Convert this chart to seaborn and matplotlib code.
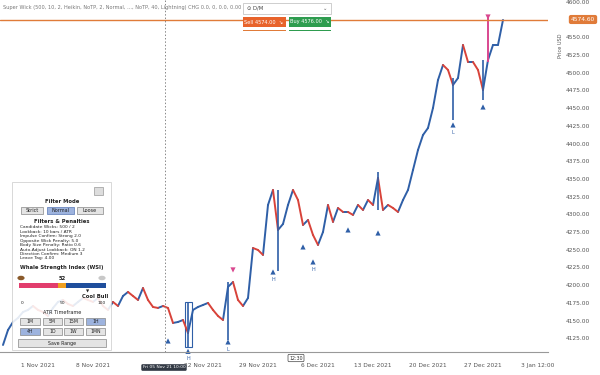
import numpy as np
import pandas as pd
import matplotlib.pyplot as plt
import seaborn as sns
from matplotlib.patches import Rectangle, Circle

# closing prices, one per bar
closes = [4115.5, 4136.7, 4148.0, 4153.7, 4162.1, 4165.0, 4170.6, 4165.0, 4162.1, 4156.5,
          4167.8, 4176.3, 4179.1, 4173.4, 4170.6, 4176.3, 4181.9, 4179.1, 4176.3, 4181.9,
          4170.6, 4165.0, 4176.3, 4170.6, 4184.7, 4190.4, 4184.7, 4179.1, 4196.0, 4179.1,
          4169.2, 4167.8, 4170.6, 4167.8, 4146.6, 4148.0, 4150.8, 4132.5, 4165.0, 4169.2,
          4172.0, 4174.9, 4165.0, 4156.5, 4150.8, 4197.5, 4204.5, 4179.1, 4170.6, 4181.9,
          4252.5, 4249.7, 4242.7, 4313.3, 4334.5, 4278.0, 4286.4, 4313.3, 4334.5, 4320.3,
          4285.0, 4292.1, 4270.9, 4256.8, 4275.1, 4313.3, 4289.3, 4309.0, 4303.4, 4303.4,
          4299.2, 4313.3, 4306.2, 4320.3, 4313.3, 4351.4, 4306.2, 4313.3, 4309.0, 4303.4,
          4320.3, 4334.5, 4362.7, 4391.0, 4412.1, 4422.0, 4450.3, 4489.8, 4511.0, 4504.0,
          4482.8, 4492.6, 4539.3, 4515.2, 4515.2, 4504.0, 4475.7, 4518.1, 4539.3, 4539.3,
          4574.6]

# long wicks
wick_bars = [37, 45, 55, 75, 90, 96]
wick_lows = [4112.7, 4122.0, 4220.0, 4306.0, 4433.3, 4461.6]
wick_highs = [4176.3, 4204.5, 4334.5, 4360.0, 4492.6, 4518.1]

# signal markers
buy_bars = [33, 37, 45, 54, 60, 62, 69, 75, 90, 96]
buy_prices = [4121.2, 4106.5, 4119.8, 4218.6, 4254.0, 4232.8, 4278.0, 4273.7, 4426.3, 4451.7]
buy_tags = ["", "H", "L", "H", "", "H", "", "", "L", ""]
sell_bars = [46, 97]
sell_prices = [4221.5, 4578.8]

last_price = 4574.60
y_ticks = [4125, 4150, 4175, 4200, 4225, 4250, 4275, 4300, 4325, 4350, 4375, 4400,
           4425, 4450, 4475, 4500, 4525, 4550, 4600]
tick_bars = [7, 18, 40, 51, 63, 74, 85, 96, 107]
tick_dates = ["1 Nov 2021", "8 Nov 2021", "22 Nov 2021", "29 Nov 2021",
              "6 Dec 2021", "13 Dec 2021", "20 Dec 2021", "27 Dec 2021", "3 Jan 12:00"]

BLUE = "#2f5fa7"
RED = "#d8433a"
PINK = "#d9478f"
ORANGE = "#e07b39"
GREEN = "#2e9c4f"

sns.set_style("white")
plt.rcParams['font.family'] = ['DejaVu Sans']

W, H = 600, 375
fig = plt.figure(figsize=(6, 3.75), dpi=100)
fx = lambda px: px / W
fy = lambda py: 1 - py / H

ax = fig.add_axes([0, fy(352), fx(548), 352 / H])

# price line: one segment per bar, coloured by direction
rows = []
for i in range(1, len(closes)):
    d = "up" if closes[i] >= closes[i - 1] else "down"
    rows.append({"seg": i, "bar": i - 1, "price": closes[i - 1], "dir": d})
    rows.append({"seg": i, "bar": i, "price": closes[i], "dir": d})
seg = pd.DataFrame(rows)
sns.lineplot(data=seg, x="bar", y="price", hue="dir", units="seg", estimator=None,
             palette={"up": BLUE, "down": RED}, lw=1.4, legend=False, sort=False, ax=ax)

ax.vlines(wick_bars, wick_lows, wick_highs, color=BLUE, lw=1.2)
ax.vlines([97], [4515.2], [4578.8], color=PINK, lw=1.4)

ax.add_patch(Rectangle((36.4, 4112.7), 1.3, 63.6, fill=False, ec=BLUE, lw=0.8))

sns.scatterplot(x=buy_bars, y=buy_prices, marker="^", s=14, color=BLUE,
                edgecolor="none", ax=ax, clip_on=False)
for b, p, t in zip(buy_bars, buy_prices, buy_tags):
    ax.text(b, p - 7, t, ha="center", va="top", fontsize=3.5, color=BLUE, clip_on=False)
sns.scatterplot(x=sell_bars, y=sell_prices, marker="v", s=14, color=PINK,
                edgecolor="none", ax=ax)

ax.axhline(last_price, color=ORANGE, lw=1.0)
ax.axvline(32.4, color="#888888", lw=0.7, ls=(0, (1.5, 2)))

ax.set_xlim(-0.6, 109)
ax.set_ylim(4105.6, 4602.8)
ax.set_xlabel("")
ax.set_ylabel("")
ax.yaxis.tick_right()
ax.set_yticks(y_ticks)
ax.set_yticklabels([f"{v:.2f}" for v in y_ticks])
ax.tick_params(axis="y", length=0, pad=13, labelsize=4.2, labelcolor="#555555")
ax.set_xticks(tick_bars)
ax.set_xticklabels(tick_dates)
ax.tick_params(axis="x", length=2, width=0.5, color="#777777", pad=6,
               labelsize=4.2, labelcolor="#555555")
for s in ["top", "right", "left"]:
    ax.spines[s].set_visible(False)
ax.spines["bottom"].set_color("#999999")
ax.spines["bottom"].set_linewidth(0.8)
ax.patch.set_alpha(0)

# price tag and axis title
fig.text(fx(583), fy(19.5), f"{last_price:.2f}", ha="center", va="center", fontsize=4.2,
         color="white", bbox=dict(boxstyle="round,pad=0.35", fc=ORANGE, ec="none"), zorder=10)
fig.text(fx(560), fy(46), "Price USD", rotation=90, ha="center", va="center",
         fontsize=3.6, color="#555555")

# header
fig.text(fx(3), fy(7), "Super Wick (500, 10, 2, Heikin, NoTP, 2, Normal, ..., NoTP, 40, "
         "Lightning) CHG 0.0, 0, 0.0, 0.00", ha="left", va="center", fontsize=3.6, color="#777777")


def box(x0, y0, x1, y1, fc, ec="#888888", lw=0.5, z=5, alpha=1.0):
    fig.patches.append(Rectangle((fx(x0), fy(y1)), fx(x1) - fx(x0), fy(y0) - fy(y1),
                                 transform=fig.transFigure, fc=fc, ec=ec, lw=lw,
                                 zorder=z, alpha=alpha))


def label(px, py, s, size=3.8, color="#222222", weight="normal", ha="center"):
    fig.text(fx(px), fy(py), s, ha=ha, va="center", fontsize=size, color=color,
             weight=weight, zorder=8)


box(243, 3, 331, 14, "white", ec="#bbbbbb")
label(247, 8.5, "⊙ D/M", color="#444444", ha="left")
label(325, 8.5, "⌄", color="#666666")
box(243, 17, 286, 27, "#e8632b", ec="none")
label(264, 22, "Sell 4574.00  ↘", color="white", size=3.6)
box(289, 17, 331, 27, GREEN, ec="none")
label(310, 22, "Buy 4576.00  ↘", color="white", size=3.6)
box(243, 29.5, 286, 31, ORANGE, ec="none")
box(289, 29.5, 331, 31, GREEN, ec="none")

# left panel
box(12, 182, 111, 350, "white", ec="#cccccc", lw=0.6, z=4, alpha=0.88)
box(94, 187, 103, 195, "#dddddd", ec="#999999")
label(62, 202, "Filter Mode", weight="bold")
box(21, 207, 43, 214, "#e4e4e4")
label(32, 210.5, "Strict", size=3.5)
box(47, 207, 74, 214, "#9db3de", ec="#5a78b5")
label(60.5, 210.5, "Normal", size=3.5)
box(77, 207, 103, 214, "#e4e4e4")
label(90, 210.5, "Loose", size=3.5)
label(62, 221, "Filters & Penalties", weight="bold")
panel_lines = ["Candidate Wicks: 500 / 2", "Lookback: 10 bars / ATR",
               "Impulse Confirm: Strong 2.0", "Opposite Wick Penalty: 5.0",
               "Body Size Penalty: Ratio 0.6", "Auto-Adjust Lookback: ON 1.2",
               "Direction Confirm: Medium 3", "Leave Tag: 4.00"]
for k, s in enumerate(panel_lines):
    label(20, 227.5 + 4.4 * k, s, size=3.2, ha="left")
label(62, 267, "Whale Strength Index (WSI)", weight="bold")
# bear / bull icons drawn as small badges
for cx, col in [(21, "#8a5a2b"), (102, "#c8c8c8")]:
    fig.patches.append(Circle((fx(cx), fy(278)), 0.006, transform=fig.transFigure,
                              fc=col, ec="none", zorder=8))
label(62, 278, "52", weight="bold")
box(19, 283, 58, 288, "#e23d6d", ec="none")
box(58, 283, 66, 288, "#f0a020", ec="none")
box(66, 283, 106, 288, "#1f4e9c", ec="none")
label(88, 291.5, "▼", size=3)
label(95, 297, "Cool Bull", weight="bold")
label(22, 303, "0", size=3.2)
label(62, 303, "50", size=3.2)
label(102, 303, "100", size=3.2)
label(62, 313, "ATR Timeframe", size=3.6)
row1 = ["1M", "5M", "15M", "1H"]
row2 = ["4H", "1D", "1W", "1MN"]
xs = [(20, 40), (43, 62), (64, 83), (86, 105)]
for k, (a, b) in enumerate(xs):
    box(a, 318, b, 325, "#9db3de" if k == 3 else "#e4e4e4")
    label((a + b) / 2, 321.5, row1[k], size=3.3)
    box(a, 328, b, 335, "#9db3de" if k == 0 else "#e4e4e4")
    label((a + b) / 2, 331.5, row2[k], size=3.3)
box(18, 339, 106, 347, "#e4e4e4")
label(62, 343, "Save Range", size=3.4)

# crosshair tooltips
fig.text(fx(164), fy(367.5), "Fri 05 Nov 21 10:00", ha="center", va="center", fontsize=3.2,
         color="white", bbox=dict(boxstyle="round,pad=0.3", fc="#333a45", ec="none"), zorder=10)
fig.text(fx(296), fy(358), "12:30", ha="center", va="center", fontsize=3.4, color="#333333",
         bbox=dict(boxstyle="round,pad=0.25", fc="white", ec="#444444", lw=0.5), zorder=10)

fig.savefig("out.png", dpi=100)
